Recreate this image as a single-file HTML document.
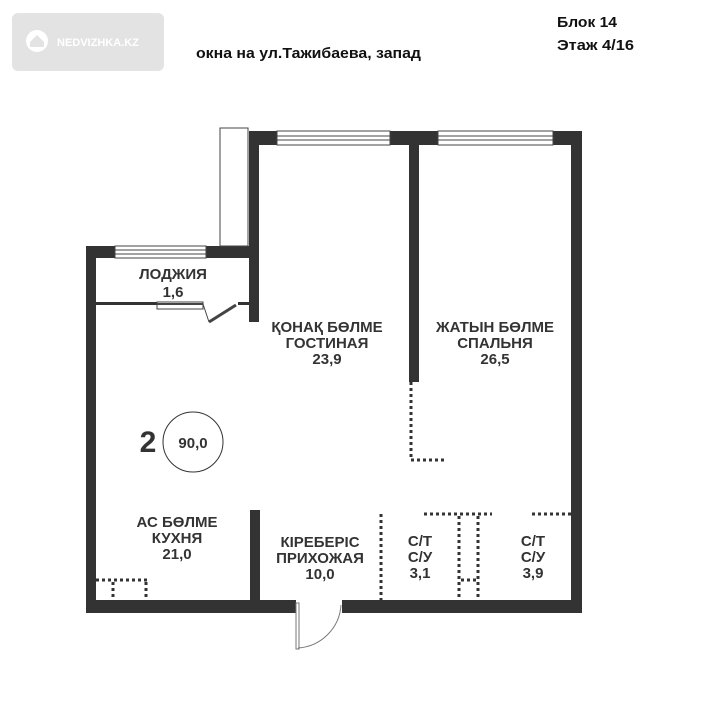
<!DOCTYPE html>
<html><head><meta charset="utf-8"><style>
html,body{margin:0;padding:0;background:#fff;}
svg{display:block;}
.t{font-family:"Liberation Sans",sans-serif;font-weight:bold;fill:#333;}
</style></head><body>
<svg width="720" height="717" viewBox="0 0 720 717" xmlns="http://www.w3.org/2000/svg">
<rect width="720" height="717" fill="#fff"/>
<rect x="12" y="13" width="152" height="58" rx="6" fill="#e3e3e3"/>
<circle cx="37" cy="41" r="11" fill="#fff"/>
<path d="M30 42 L37 35 L44 42 L44 47 L30 47Z" fill="#e3e3e3"/>
<text x="57" y="46" font-family="Liberation Sans,sans-serif" font-weight="bold" font-size="11" fill="#fff">NEDVIZHKA.KZ</text>
<text x="196" y="58" class="t" font-size="15" style="fill:#111" textLength="225" lengthAdjust="spacingAndGlyphs">окна на ул.Тажибаева, запад</text>
<text x="557" y="27" class="t" font-size="15" style="fill:#111" textLength="60" lengthAdjust="spacingAndGlyphs">Блок 14</text>
<text x="557" y="50" class="t" font-size="15" style="fill:#111" textLength="77" lengthAdjust="spacingAndGlyphs">Этаж 4/16</text>

<g fill="#333">
<rect x="249" y="131" width="333" height="14"/>
<rect x="249" y="131" width="10" height="191"/>
<rect x="409" y="131" width="10" height="251"/>
<rect x="571" y="131" width="11" height="482"/>
<rect x="86" y="600" width="210" height="13"/>
<rect x="342" y="600" width="240" height="13"/>
<rect x="86" y="246" width="172" height="12"/>
<rect x="86" y="246" width="10" height="367"/>
<rect x="250" y="510" width="10" height="95"/>
<rect x="96" y="302" width="61" height="3"/>
<rect x="238" y="302" width="12" height="3"/>
</g>
<g fill="#fff" stroke="#444" stroke-width="1">
<rect x="277" y="131" width="113" height="14"/>
<rect x="438" y="131" width="115" height="14"/>
<rect x="115" y="246" width="91" height="12"/>
<rect x="220" y="128" width="28" height="118"/>
</g>
<g stroke="#444" stroke-width="1">
<line x1="277" y1="136" x2="390" y2="136"/><line x1="277" y1="140" x2="390" y2="140"/>
<line x1="438" y1="136" x2="553" y2="136"/><line x1="438" y1="140" x2="553" y2="140"/>
<line x1="115" y1="250" x2="206" y2="250"/><line x1="115" y1="254" x2="206" y2="254"/>
</g>
<rect x="157" y="302" width="46" height="7" fill="#fff" stroke="#444"/>
<line x1="157" y1="304" x2="203" y2="304" stroke="#444" stroke-width="2"/>
<line x1="203" y1="304" x2="209" y2="322" stroke="#444"/>
<line x1="209" y1="322" x2="236" y2="305" stroke="#444" stroke-width="3"/>
<rect x="296" y="603" width="3" height="46" fill="#fff" stroke="#777"/>
<path d="M298 648 A46 46 0 0 0 341 605" fill="none" stroke="#777"/>
<g stroke="#333" stroke-width="3" stroke-dasharray="3 3" fill="none">
<polyline points="411,382 411,460 445,460"/>
<line x1="381" y1="514" x2="381" y2="600"/>
<line x1="424" y1="514" x2="492" y2="514"/>
<line x1="459" y1="516" x2="459" y2="600"/>
<line x1="478" y1="516" x2="478" y2="600"/>
<line x1="461" y1="580" x2="477" y2="580"/>
<line x1="532" y1="514" x2="571" y2="514"/>
<line x1="96" y1="580" x2="148" y2="580"/>
<line x1="113" y1="582" x2="113" y2="600"/>
<line x1="146" y1="582" x2="146" y2="600"/>
</g>
<g class="t" font-size="15" text-anchor="middle">
<text x="173" y="279">ЛОДЖИЯ</text><text x="173" y="297">1,6</text>
<text x="327" y="332">ҚОНАҚ БӨЛМЕ</text><text x="327" y="348">ГОСТИНАЯ</text><text x="327" y="364">23,9</text>
<text x="495" y="332">ЖАТЫН БӨЛМЕ</text><text x="495" y="348">СПАЛЬНЯ</text><text x="495" y="364">26,5</text>
<text x="177" y="527">АС БӨЛМЕ</text><text x="177" y="543">КУХНЯ</text><text x="177" y="559">21,0</text>
<text x="320" y="547">КІРЕБЕРІС</text><text x="320" y="563">ПРИХОЖАЯ</text><text x="320" y="579">10,0</text>
<text x="420" y="546">С/Т</text><text x="420" y="562">С/У</text><text x="420" y="578">3,1</text>
<text x="533" y="546">С/Т</text><text x="533" y="562">С/У</text><text x="533" y="578">3,9</text>
</g>
<text x="148" y="452" class="t" font-size="30" text-anchor="middle">2</text>
<circle cx="193" cy="442" r="30" fill="none" stroke="#333" stroke-width="1"/>
<text x="193" y="448" class="t" font-size="15" text-anchor="middle">90,0</text>
</svg>
</body></html>
